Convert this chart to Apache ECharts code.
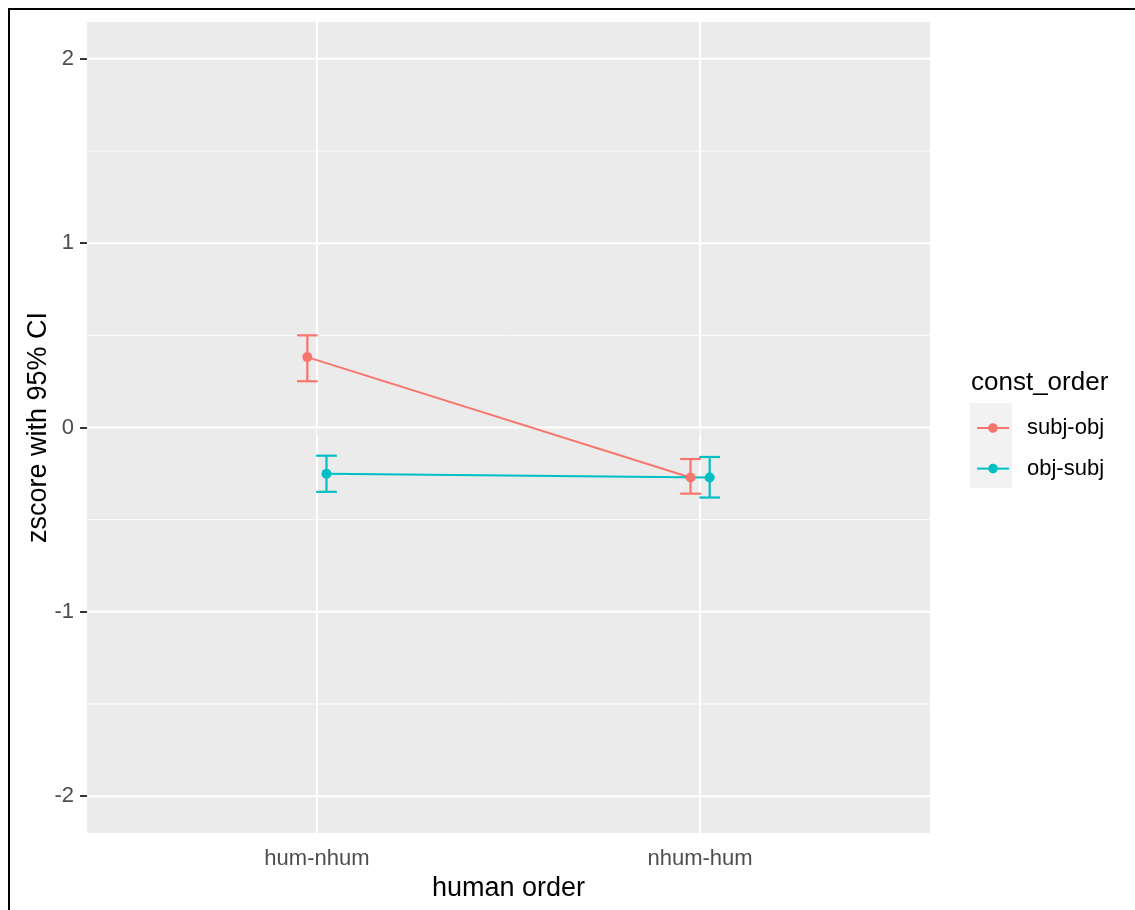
<!DOCTYPE html>
<html>
<head>
<meta charset="utf-8">
<script src="https://cdn.jsdelivr.net/npm/echarts@6/dist/echarts.min.js"></script>
<style>
html,body{margin:0;padding:0;background:#fff;}
#chart{width:1135px;height:910px;}
</style>
</head>
<body>
<div id="chart"></div>
<script>
// ---- data ----
var categories = ['hum-nhum', 'nhum-hum'];
var groups = ['subj-obj', 'obj-subj'];
var subjObjMean = [0.382, -0.271];
var subjObjLow  = [0.251, -0.359];
var subjObjHigh = [0.500, -0.171];
var objSubjMean = [-0.251, -0.271];
var objSubjLow  = [-0.349, -0.380];
var objSubjHigh = [-0.153, -0.160];
var yTicks = [-2, -1, 0, 1, 2];
var yMinorTicks = [-1.5, -0.5, 0.5, 1.5];
var xTicks = [1, 2];

// ---- styling / layout constants ----
var colors = ['#F8766D', '#00BFC4'];
var dodge = [-0.025, 0.025];
var capHalf = 0.027;

function pts(mean, d) {
  return mean.map(function (v, i) { return [i + 1 + d, v]; });
}
function bars(low, high, d) {
  return low.map(function (v, i) { return [i + 1 + d, v, high[i]]; });
}

var gridData = [];
yTicks.forEach(function (v) { gridData.push({ value: [v, 0], dir: 'h', w: 2 }); });
yMinorTicks.forEach(function (v) { gridData.push({ value: [v, 0], dir: 'h', w: 1 }); });
xTicks.forEach(function (v) { gridData.push({ value: [v, 0], dir: 'v', w: 2 }); });

function gridRender(params, api) {
  var cs = params.coordSys;
  var item = gridData[params.dataIndex];
  var v = api.value(0);
  var shape;
  if (item.dir === 'h') {
    var y = api.coord([1, v])[1];
    shape = { x1: cs.x, y1: y, x2: cs.x + cs.width, y2: y };
  } else {
    var x = api.coord([v, 0])[0];
    shape = { x1: x, y1: cs.y, x2: x, y2: cs.y + cs.height };
  }
  return { type: 'line', shape: shape, style: { stroke: '#FFFFFF', lineWidth: item.w } };
}

function errRender(color) {
  return function (params, api) {
    var x = api.value(0), lo = api.value(1), hi = api.value(2);
    var a = api.coord([x, lo]), b = api.coord([x, hi]);
    var l1 = api.coord([x - capHalf, lo]), r1 = api.coord([x + capHalf, lo]);
    var l2 = api.coord([x - capHalf, hi]), r2 = api.coord([x + capHalf, hi]);
    var st = { stroke: color, lineWidth: 2.2 };
    return { type: 'group', children: [
      { type: 'line', shape: { x1: a[0], y1: a[1], x2: b[0], y2: b[1] }, style: st },
      { type: 'line', shape: { x1: l1[0], y1: l1[1], x2: r1[0], y2: r1[1] }, style: st },
      { type: 'line', shape: { x1: l2[0], y1: l2[1], x2: r2[0], y2: r2[1] }, style: st }
    ] };
  };
}

var chart = echarts.init(document.getElementById('chart'));
var FONT = '"Liberation Sans", Arial, sans-serif';
chart.setOption({
  animation: false,
  textStyle: { fontFamily: FONT },
  grid: { left: 87, right: 205, top: 22, bottom: 77, show: true, backgroundColor: '#EBEBEB', borderWidth: 0 },
  xAxis: {
    type: 'value', min: 0.4, max: 2.6,
    name: 'human order', nameLocation: 'middle', nameGap: 42, nameMoveOverlap: false,
    nameTextStyle: { fontSize: 27, lineHeight: 27, color: '#000', fontFamily: FONT },
    axisLine: { show: false },
    axisTick: { show: true, customValues: xTicks, length: 7, lineStyle: { color: '#333333', width: 2 } },
    axisLabel: { customValues: xTicks, margin: 15, fontSize: 22, lineHeight: 22, color: '#4D4D4D', fontFamily: FONT,
      formatter: function (v) { return categories[Math.round(v) - 1] || ''; } },
    splitLine: { show: false }
  },
  yAxis: {
    type: 'value', min: -2.2, max: 2.2,
    name: 'zscore with 95% CI', nameLocation: 'middle', nameGap: 35, nameMoveOverlap: false,
    nameTextStyle: { fontSize: 27, lineHeight: 27, color: '#000', fontFamily: FONT },
    axisLine: { show: false },
    axisTick: { show: true, customValues: yTicks, length: 7, lineStyle: { color: '#333333', width: 2 } },
    axisLabel: { customValues: yTicks, margin: 13, fontSize: 22, lineHeight: 22, padding: [6, 0, 0, 0], color: '#4D4D4D', fontFamily: FONT,
      formatter: function (v) { return String(v); } },
    splitLine: { show: false }
  },
  legend: {
    orient: 'vertical', left: 971, top: 412,
    itemWidth: 32, itemHeight: 12, itemGap: 18.6,
    data: groups,
    textStyle: { fontSize: 22, lineHeight: 22, color: '#000', fontFamily: FONT, padding: [0, 0, 0, 13] }
  },
  graphic: [
    { type: 'rect', shape: { x: 970, y: 403, width: 42, height: 85 }, style: { fill: '#F2F2F2' }, z: -1 },
    { type: 'text', x: 971, y: 383, style: { text: 'const_order', font: '26px "Liberation Sans", Arial, sans-serif', fill: '#000', verticalAlign: 'middle', align: 'left' } },
    { type: 'line', shape: { x1: 8, y1: 9, x2: 1135, y2: 9 }, style: { stroke: '#000', lineWidth: 2 } },
    { type: 'line', shape: { x1: 9, y1: 8, x2: 9, y2: 910 }, style: { stroke: '#000', lineWidth: 2 } }
  ],
  series: [
    { type: 'custom', name: 'gridlines', silent: true, z: 1, renderItem: gridRender,
      data: gridData.map(function (d) { return d.value; }), encode: { x: 0, y: 1 } },
    { type: 'custom', name: groups[0] + ' ci', z: 3, renderItem: errRender(colors[0]),
      data: bars(subjObjLow, subjObjHigh, dodge[0]), encode: { x: 0, y: [1, 2] } },
    { type: 'custom', name: groups[1] + ' ci', z: 3, renderItem: errRender(colors[1]),
      data: bars(objSubjLow, objSubjHigh, dodge[1]), encode: { x: 0, y: [1, 2] } },
    { type: 'line', name: groups[0], z: 4, data: pts(subjObjMean, dodge[0]), color: colors[0],
      symbol: 'circle', symbolSize: 10, showSymbol: true, lineStyle: { width: 2, color: colors[0] }, itemStyle: { color: colors[0] } },
    { type: 'line', name: groups[1], z: 4, data: pts(objSubjMean, dodge[1]), color: colors[1],
      symbol: 'circle', symbolSize: 10, showSymbol: true, lineStyle: { width: 2, color: colors[1] }, itemStyle: { color: colors[1] } }
  ]
});
</script>
</body>
</html>
